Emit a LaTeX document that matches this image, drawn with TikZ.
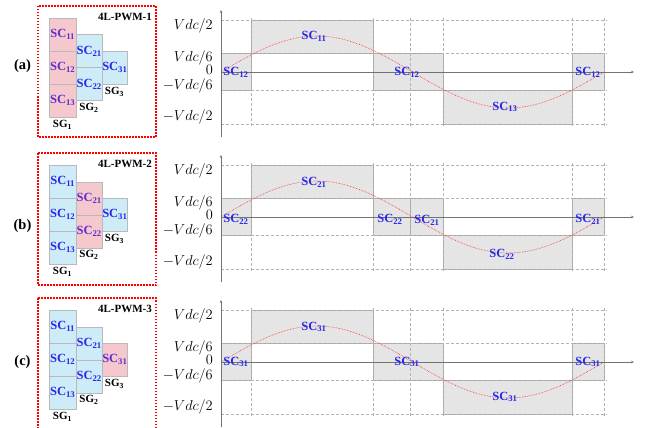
\documentclass[tikz,border=0pt]{standalone}
\usepackage{fontspec}
\setmainfont{Liberation Serif}
\usetikzlibrary{arrows.meta}
\definecolor{scblue}{RGB}{40,40,235}
\definecolor{scpurple}{RGB}{95,45,205}
\definecolor{cellpink}{RGB}{245,200,205}
\definecolor{cellblue}{RGB}{205,236,248}
\definecolor{rectgray}{RGB}{229,229,229}
\tikzset{
  cellbox/.style={draw=gray!55, line width=0.5pt, inner sep=0pt, minimum height=33pt,
    font=\fontsize{12.5}{14}\selectfont\bfseries, text=scblue},
  pinkcell/.style={cellbox, fill=cellpink, text=scpurple},
  bluecell/.style={cellbox, fill=cellblue},
  sclab/.style={font=\fontsize{12.5}{14}\selectfont\bfseries, text=scblue, inner sep=0pt},
  sglab/.style={font=\fontsize{11}{13}\selectfont\bfseries, inner sep=0pt, anchor=north},
  lvlrect/.style={fill=rectgray, draw=gray!70, line width=0.6pt},
  gridline/.style={gray!60, line width=0.5pt, dash pattern=on 3pt off 2pt},
  axisline/.style={black!55, line width=0.45pt, -{Stealth[length=3pt,width=2.5pt]}},
  sinecurve/.style={red!85, densely dotted, line width=0.6pt},
  redbox/.style={draw=red, line width=1.2pt, dash pattern=on 1.5pt off 1.5pt},
  ylab/.style={anchor=east, font=\fontsize{15.5}{17}\selectfont, inner sep=0pt},
  panellab/.style={font=\fontsize{14.5}{16}\selectfont\bfseries, inner sep=0pt},
  pwmlab/.style={font=\fontsize{11}{13}\selectfont\bfseries, anchor=east, inner sep=0pt},
}
% #1 prefix, #2 y-shift, #3 style SG1, #4 style SG2, #5 style SG3, #6 pwm number, #7 box bottom
\newcommand\leftblock[7]{%
  \begin{scope}[shift={(0,#2)}]
    \draw[redbox] (38,6) rectangle (156,#7);
    \node[pwmlab] (#1pwm) at (152,16.5) {4L-PWM-#6};
    \node[#3, minimum width=27pt, anchor=north west] (#1c11) at (49,18) {SC\textsubscript{11}};
    \node[#3, minimum width=27pt, anchor=north west] (#1c12) at (49,51) {SC\textsubscript{12}};
    \node[#3, minimum width=27pt, anchor=north west] (#1c13) at (49,84) {SC\textsubscript{13}};
    \node[#4, minimum width=26pt, anchor=north west] (#1c21) at (76,34.5) {SC\textsubscript{21}};
    \node[#4, minimum width=26pt, anchor=north west] (#1c22) at (76,67.5) {SC\textsubscript{22}};
    \node[#5, minimum width=25pt, anchor=north west] (#1c31) at (102,51) {SC\textsubscript{31}};
    \node[sglab] (#1g1) at (62.5,120) {SG\textsubscript{1}};
    \node[sglab] (#1g2) at (89,103) {SG\textsubscript{2}};
    \node[sglab] (#1g3) at (114.5,87) {SG\textsubscript{3}};
  \end{scope}}
% #1 prefix, #2 zero line y
\newcommand\chartgrid[2]{%
  \begin{scope}[shift={(0,#2)}]
    \foreach \yy in {-52,-19,18,52} \draw[gridline] (221,\yy) -- (607,\yy);
    \foreach \xx in {251,373,410,443,572,604} \draw[gridline] (\xx,-54) -- (\xx,55);
    \coordinate (#1o) at (221,0);
    \coordinate (#1xe) at (634,0);
    \coordinate (#1yb) at (221,65);
    \coordinate (#1ye) at (221,-62);
    \draw[axisline] (#1o) -- (#1xe);
    \draw[axisline] (#1yb) -- (#1ye);
    \draw[sinecurve] plot[domain=0:383, samples=90] ({221+\x}, {-36*sin(0.939948*\x)});
    \node[ylab] (#1l1) at (213,-46) {$Vdc/2$};
    \node[ylab] (#1l2) at (213,-14) {$Vdc/6$};
    \node[ylab] (#1l3) at (213,-2) {$0$};
    \node[ylab] (#1l4) at (213,14) {$-Vdc/6$};
    \node[ylab] (#1l5) at (213,45) {$-Vdc/2$};
  \end{scope}}
\begin{document}
\begin{tikzpicture}[x=1pt,y=-1pt]
\useasboundingbox (0,0) rectangle (646,428);
\fill[white] (0,0) rectangle (646,428);

% ---------------- panel (a) ----------------
\node[panellab] (pa) at (22.5,66) {(a)};
\leftblock{a}{0}{pinkcell}{bluecell}{bluecell}{1}{137}
\begin{scope}[shift={(0,72)}]
  \draw[lvlrect] (221,-19) rectangle (251,18);
  \draw[lvlrect] (251,-52) rectangle (373,-19);
  \draw[lvlrect] (373,-19) rectangle (443,18);
  \draw[lvlrect] (443,18) rectangle (572,52);
  \draw[lvlrect] (572,-19) rectangle (604,18);
\end{scope}
\chartgrid{a}{72}
\begin{scope}[shift={(0,72)}]
  \node[sclab] (as1) at (236,0) {SC\textsubscript{12}};
  \node[sclab] (as2) at (314,-36) {SC\textsubscript{11}};
  \node[sclab] (as3) at (407,0) {SC\textsubscript{12}};
  \node[sclab] (as4) at (505,35) {SC\textsubscript{13}};
  \node[sclab] (as5) at (588,0) {SC\textsubscript{12}};
\end{scope}

% ---------------- panel (b) ----------------
\node[panellab] (pb) at (22.5,226) {(b)};
\leftblock{b}{147}{bluecell}{pinkcell}{bluecell}{2}{138}
\begin{scope}[shift={(0,217)}]
  \draw[lvlrect] (221,-19) rectangle (251,18);
  \draw[lvlrect] (251,-52) rectangle (373,-19);
  \draw[lvlrect] (373,-19) rectangle (410,18);
  \draw[lvlrect] (410,-19) rectangle (443,18);
  \draw[lvlrect] (443,18) rectangle (572,52);
  \draw[lvlrect] (572,-19) rectangle (604,18);
\end{scope}
\chartgrid{b}{217}
\begin{scope}[shift={(0,217)}]
  \node[sclab] (bs1) at (236,2) {SC\textsubscript{22}};
  \node[sclab] (bs2) at (314,-35) {SC\textsubscript{21}};
  \node[sclab] (bs3) at (390,2) {SC\textsubscript{22}};
  \node[sclab] (bs4) at (427,3) {SC\textsubscript{21}};
  \node[sclab] (bs5) at (502,37) {SC\textsubscript{22}};
  \node[sclab] (bs6) at (588,2) {SC\textsubscript{21}};
\end{scope}

% ---------------- panel (c) ----------------
\node[panellab] (pc) at (22.5,362) {(c)};
\leftblock{c}{292}{bluecell}{bluecell}{pinkcell}{3}{150}
\begin{scope}[shift={(0,362)}]
  \draw[lvlrect] (221,-19) rectangle (251,18);
  \draw[lvlrect] (251,-52) rectangle (373,-19);
  \draw[lvlrect] (373,-19) rectangle (443,18);
  \draw[lvlrect] (443,18) rectangle (572,52);
  \draw[lvlrect] (572,-19) rectangle (604,18);
\end{scope}
\chartgrid{c}{362}
\begin{scope}[shift={(0,362)}]
  \node[sclab] (cs1) at (236,0) {SC\textsubscript{31}};
  \node[sclab] (cs2) at (314,-35) {SC\textsubscript{31}};
  \node[sclab] (cs3) at (407,0) {SC\textsubscript{31}};
  \node[sclab] (cs4) at (505,35) {SC\textsubscript{31}};
  \node[sclab] (cs5) at (588,0) {SC\textsubscript{31}};
\end{scope}
\end{tikzpicture}
\end{document}
